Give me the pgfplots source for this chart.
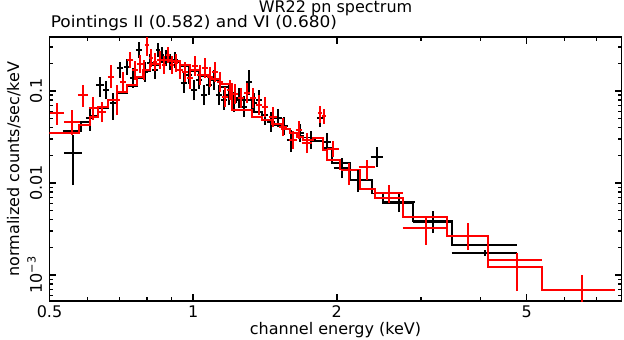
\documentclass[border=0pt]{standalone}
\usepackage{fontspec}
\setmainfont{DejaVu Sans}
\usepackage{pgfplots}
\pgfplotsset{compat=1.18}

\begin{document}
\begin{tikzpicture}[font=\fontsize{16}{19}\selectfont]
\useasboundingbox (-49.5pt,-39pt) rectangle (574.5pt,301pt);
\begin{axis}[
  at={(0pt,0pt)}, anchor=south west,
  scale only axis, width=572pt, height=264pt,
  xmode=log, ymode=log,
  xmin=0.5, xmax=7.9, ymin=5.22e-4, ymax=0.386,
  clip mode=individual, unbounded coords=jump,
  xtick={0.5,1,2,5}, xticklabels={0.5,1,2,5},
  minor xtick={0.6,0.7,0.8,0.9,3,4,6,7},
  ytick={0.001,0.01,0.1}, yticklabels={10\textsuperscript{−3},0.01,0.1},
  minor ytick={0.0006,0.0007,0.0008,0.0009,0.002,0.003,0.004,0.005,0.006,0.007,0.008,0.009,0.02,0.03,0.04,0.05,0.06,0.07,0.08,0.09,0.2,0.3},
  tick align=inside, major tick length=7pt, minor tick length=4pt,
  axis line style={line width=1.6pt},
  every tick/.style={black, line width=1.4pt},
  xticklabel style={anchor=base, inner sep=0pt}, xticklabel shift=16.5pt,
  yticklabel style={rotate=90, anchor=base, inner sep=0pt}, yticklabel shift=7.5pt,
  xlabel={channel energy (keV)},
  xlabel style={at={(axis description cs:0.5,-0.1250)}, anchor=base, inner sep=0pt},
  ylabel={normalized counts/sec/keV},
  ylabel style={at={(axis description cs:-0.0533,0.5)}, anchor=base, inner sep=0pt},
]
% model, pointing II
\addplot[black, line width=1.8pt, const plot] coordinates {
(0.5336,0.0368)(0.582,0.0460)(0.6078,0.0534)(0.6316,0.0653)(0.6628,0.0798)
(0.6924,0.0951)(0.7266,0.1133)(0.7625,0.1384)(0.7848,0.1650)(0.8117,0.1918)
(0.8518,0.2119)(0.8939,0.2066)(0.9380,0.1871)(0.9844,0.1650)(1.0330,0.1456)
(1.0840,0.1317)(1.1376,0.1105)(1.2055,0.0798)(1.3275,0.0592)(1.393,0.0484)
(1.4618,0.0427)(1.534,0.0387)(1.5941,0.0349)(1.649,0.0324)(1.6973,0.0313)
(1.7811,0.0286)(1.8691,0.0240)(1.952,0.0166)(2.1288,0.01078)(2.367,0.00768)
(2.496,0.00611)(2.884,0.00389)(3.481,0.00212)(4.762,0.00212)};
% data, pointing II: each cross = bin (horizontal) + error (vertical)
\addplot[black, line width=2pt] table[row sep=\\] {
x y\\
0.5362 0.0212\\ 0.5848 0.0212\\ nan nan\\ 0.5600 0.00951\\ 0.5600 0.0332\\ nan nan\\
0.5962 0.0509\\ 0.6196 0.0509\\ nan nan\\ 0.6078 0.0368\\ 0.6078 0.0670\\ nan nan\\
0.6256 0.1162\\ 0.6502 0.1162\\ nan nan\\ 0.6378 0.0861\\ 0.6378 0.1419\\ nan nan\\
0.6471 0.1025\\ 0.6661 0.1025\\ nan nan\\ 0.6566 0.0818\\ 0.6566 0.1284\\ nan nan\\
0.6693 0.0740\\ 0.6890 0.0740\\ nan nan\\ 0.6791 0.0484\\ 0.6791 0.0951\\ nan nan\\
0.6924 0.1779\\ 0.7127 0.1779\\ nan nan\\ 0.7024 0.1385\\ 0.7024 0.2067\\ nan nan\\
0.7160 0.1824\\ 0.7371 0.1824\\ nan nan\\ 0.7265 0.1493\\ 0.7265 0.2228\\ nan nan\\
0.7371 0.1385\\ 0.7588 0.1385\\ nan nan\\ 0.7479 0.1078\\ 0.7479 0.1779\\ nan nan\\
0.7588 0.2791\\ 0.7810 0.2791\\ nan nan\\ 0.7698 0.2284\\ 0.7698 0.3408\\ nan nan\\
0.7810 0.1609\\ 0.8039 0.1609\\ nan nan\\ 0.7924 0.1253\\ 0.7924 0.2067\\ nan nan\\
0.8001 0.2016\\ 0.8236 0.2016\\ nan nan\\ 0.8117 0.1609\\ 0.8117 0.2525\\ nan nan\\
0.8196 0.1692\\ 0.8436 0.1692\\ nan nan\\ 0.8315 0.1350\\ 0.8315 0.2119\\ nan nan\\
0.8355 0.2791\\ 0.8518 0.2791\\ nan nan\\ 0.8436 0.2343\\ 0.8436 0.3324\\ nan nan\\
0.8518 0.2463\\ 0.8684 0.2463\\ nan nan\\ 0.8601 0.2016\\ 0.8601 0.3008\\ nan nan\\
0.8684 0.2284\\ 0.8853 0.2284\\ nan nan\\ 0.8768 0.1871\\ 0.8768 0.2791\\ nan nan\\
0.8811 0.2067\\ 0.9069 0.2067\\ nan nan\\ 0.8939 0.1692\\ 0.8939 0.2525\\ nan nan\\
0.9026 0.2173\\ 0.9291 0.2173\\ nan nan\\ 0.9157 0.1779\\ 0.9157 0.2655\\ nan nan\\
0.9246 0.1692\\ 0.9516 0.1692\\ nan nan\\ 0.9380 0.1385\\ 0.9380 0.2067\\ nan nan\\
0.9425 0.1222\\ 0.9702 0.1222\\ nan nan\\ 0.9562 0.0951\\ 0.9562 0.1609\\ nan nan\\
0.9656 0.1493\\ 0.9940 0.1493\\ nan nan\\ 0.9796 0.1191\\ 0.9796 0.1871\\ nan nan\\
0.9892 0.1025\\ 1.0182 0.1025\\ nan nan\\ 1.0035 0.0798\\ 1.0035 0.1317\\ nan nan\\
1.0133 0.1317\\ 1.0430 0.1317\\ nan nan\\ 1.0280 0.1051\\ 1.0280 0.1650\\ nan nan\\
1.0380 0.0905\\ 1.0685 0.0905\\ nan nan\\ 1.0531 0.0704\\ 1.0531 0.1162\\ nan nan\\
1.0633 0.1162\\ 1.0946 0.1162\\ nan nan\\ 1.0788 0.0905\\ 1.0788 0.1493\\ nan nan\\
1.0893 0.1317\\ 1.1213 0.1317\\ nan nan\\ 1.1051 0.1025\\ 1.1051 0.1692\\ nan nan\\
1.1159 0.0905\\ 1.1486 0.0905\\ nan nan\\ 1.1321 0.0704\\ 1.1321 0.1162\\ nan nan\\
1.1431 0.0798\\ 1.1766 0.0798\\ nan nan\\ 1.1597 0.0622\\ 1.1597 0.1025\\ nan nan\\
1.1710 0.0905\\ 1.2054 0.0905\\ nan nan\\ 1.1880 0.0704\\ 1.1880 0.1162\\ nan nan\\
1.1996 0.0759\\ 1.2348 0.0759\\ nan nan\\ 1.2170 0.0592\\ 1.2170 0.0975\\ nan nan\\
1.2288 0.0839\\ 1.2649 0.0839\\ nan nan\\ 1.2466 0.0654\\ 1.2466 0.1078\\ nan nan\\
1.2588 0.0670\\ 1.2958 0.0670\\ nan nan\\ 1.2771 0.0521\\ 1.2771 0.0883\\ nan nan\\
1.2895 0.1253\\ 1.3274 0.1253\\ nan nan\\ 1.3083 0.0905\\ 1.3083 0.1692\\ nan nan\\
1.3210 0.0740\\ 1.3598 0.0740\\ nan nan\\ 1.3402 0.0577\\ 1.3402 0.0951\\ nan nan\\
1.3532 0.0798\\ 1.3929 0.0798\\ nan nan\\ 1.3728 0.0622\\ 1.3728 0.1025\\ nan nan\\
1.3929 0.0548\\ 1.4336 0.0548\\ nan nan\\ 1.4132 0.0427\\ 1.4132 0.0704\\ nan nan\\
1.4269 0.0460\\ 1.4829 0.0460\\ nan nan\\ 1.4546 0.0359\\ 1.4546 0.0592\\ nan nan\\
1.4757 0.0509\\ 1.5339 0.0509\\ nan nan\\ 1.5044 0.0406\\ 1.5044 0.0638\\ nan nan\\
1.5191 0.0416\\ 1.5788 0.0416\\ nan nan\\ 1.5487 0.0332\\ 1.5487 0.0521\\ nan nan\\
1.5711 0.0293\\ 1.6330 0.0293\\ nan nan\\ 1.6018 0.0217\\ 1.6018 0.0377\\ nan nan\\
1.6409 0.0349\\ 1.7055 0.0349\\ nan nan\\ 1.6729 0.0279\\ 1.6729 0.0438\\ nan nan\\
1.7220 0.0293\\ 1.8070 0.0293\\ nan nan\\ 1.7640 0.0234\\ 1.7640 0.0368\\ nan nan\\
1.8158 0.0509\\ 1.8691 0.0509\\ nan nan\\ 1.8422 0.0406\\ 1.8422 0.0654\\ nan nan\\
1.8691 0.0279\\ 1.9425 0.0279\\ nan nan\\ 1.9055 0.0222\\ 1.9055 0.0349\\ nan nan\\
1.9707 0.01451\\ 2.1288 0.01451\\ nan nan\\ 2.0483 0.01133\\ 2.0483 0.0187\\ nan nan\\
2.1288 0.01078\\ 2.2995 0.01078\\ nan nan\\ 2.2124 0.00798\\ 2.2124 0.0138\\ nan nan\\
2.3556 0.01912\\ 2.4960 0.01912\\ nan nan\\ 2.4248 0.01493\\ 2.4248 0.02464\\ nan nan\\
2.4960 0.00621\\ 2.9121 0.00621\\ nan nan\\ 2.6959 0.00484\\ 2.6959 0.00798\\ nan nan\\
2.8843 0.00377\\ 3.4807 0.00377\\ nan nan\\ 3.1759 0.00286\\ 3.1759 0.00496\\ nan nan\\
3.4808 0.00174\\ 4.7620 0.00174\\ nan nan\\ 4.0808 0.00161\\ 4.0808 0.00187\\
};
% model, pointing VI
\addplot[red, line width=1.8pt, const plot] coordinates {
(0.5,0.0352)(0.5764,0.0427)(0.6078,0.0521)(0.6316,0.0670)(0.6628,0.0798)
(0.6924,0.0975)(0.7266,0.1162)(0.7625,0.1419)(0.7848,0.1692)(0.8117,0.1967)
(0.8518,0.2173)(0.8939,0.2119)(0.9380,0.1918)(0.9844,0.1692)(1.0330,0.1493)
(1.0840,0.1350)(1.1376,0.1191)(1.2055,0.0622)(1.3275,0.0521)(1.393,0.0484)
(1.4618,0.0438)(1.534,0.0387)(1.5941,0.0349)(1.649,0.0316)(1.6973,0.0293)
(1.7811,0.0306)(1.8691,0.0228)(1.9056,0.0178)(2.0286,0.0140)(2.2339,0.00854)
(2.4014,0.00681)(2.7485,0.00424)(3.398,0.00265)(4.14,0.00123)(5.372,0.000687)
(7.64,0.000687)};
% data, pointing VI
\addplot[red, line width=2pt] table[row sep=\\] {
x y\\
0.5012 0.0576\\ 0.5362 0.0576\\ nan nan\\ 0.5185 0.0427\\ 0.5185 0.0740\\ nan nan\\
0.5362 0.0460\\ 0.5792 0.0460\\ nan nan\\ 0.5573 0.0332\\ 0.5573 0.0622\\ nan nan\\
0.5736 0.0905\\ 0.6019 0.0905\\ nan nan\\ 0.5876 0.0670\\ 0.5876 0.1162\\ nan nan\\
0.6049 0.0654\\ 0.6287 0.0654\\ nan nan\\ 0.6166 0.0484\\ 0.6166 0.0861\\ nan nan\\
0.6316 0.0592\\ 0.6566 0.0592\\ nan nan\\ 0.6440 0.0460\\ 0.6440 0.0759\\ nan nan\\
0.6628 0.1419\\ 0.6824 0.1419\\ nan nan\\ 0.6726 0.1078\\ 0.6726 0.1918\\ nan nan\\
0.6824 0.0798\\ 0.7024 0.0798\\ nan nan\\ 0.6924 0.0548\\ 0.6924 0.1162\\ nan nan\\
0.7024 0.1253\\ 0.7230 0.1253\\ nan nan\\ 0.7127 0.0975\\ 0.7127 0.1609\\ nan nan\\
0.7265 0.2173\\ 0.7479 0.2173\\ nan nan\\ 0.7371 0.1779\\ 0.7371 0.2655\\ nan nan\\
0.7443 0.1692\\ 0.7661 0.1692\\ nan nan\\ 0.7551 0.1317\\ 0.7551 0.2119\\ nan nan\\
0.7624 0.1967\\ 0.7848 0.1967\\ nan nan\\ 0.7735 0.1570\\ 0.7735 0.2463\\ nan nan\\
0.7810 0.1692\\ 0.7962 0.1692\\ nan nan\\ 0.7886 0.1317\\ 0.7886 0.2173\\ nan nan\\
0.7924 0.3162\\ 0.8078 0.3162\\ nan nan\\ 0.8001 0.2402\\ 0.8001 0.4062\\ nan nan\\
0.8078 0.2284\\ 0.8236 0.2284\\ nan nan\\ 0.8156 0.1824\\ 0.8156 0.2862\\ nan nan\\
0.8236 0.2067\\ 0.8396 0.2067\\ nan nan\\ 0.8315 0.1650\\ 0.8315 0.2589\\ nan nan\\
0.8396 0.2173\\ 0.8642 0.2173\\ nan nan\\ 0.8518 0.1735\\ 0.8518 0.2722\\ nan nan\\
0.8601 0.1918\\ 0.8768 0.1918\\ nan nan\\ 0.8684 0.1531\\ 0.8684 0.2402\\ nan nan\\
0.8768 0.2463\\ 0.8939 0.2463\\ nan nan\\ 0.8853 0.2016\\ 0.8853 0.3008\\ nan nan\\
0.8939 0.1918\\ 0.9113 0.1918\\ nan nan\\ 0.9026 0.1531\\ 0.9026 0.2402\\ nan nan\\
0.9113 0.2016\\ 0.9291 0.2016\\ nan nan\\ 0.9201 0.1609\\ 0.9201 0.2525\\ nan nan\\
0.9246 0.1692\\ 0.9516 0.1692\\ nan nan\\ 0.9380 0.1350\\ 0.9380 0.2119\\ nan nan\\
0.9471 0.1609\\ 0.9749 0.1609\\ nan nan\\ 0.9609 0.1253\\ 0.9609 0.2067\\ nan nan\\
0.9702 0.1385\\ 0.9987 0.1385\\ nan nan\\ 0.9844 0.1051\\ 0.9844 0.1824\\ nan nan\\
0.9940 0.1871\\ 1.0231 0.1871\\ nan nan\\ 1.0084 0.1456\\ 1.0084 0.2402\\ nan nan\\
1.0182 0.1493\\ 1.0480 0.1493\\ nan nan\\ 1.0330 0.1162\\ 1.0330 0.1918\\ nan nan\\
1.0430 0.1779\\ 1.0737 0.1779\\ nan nan\\ 1.0582 0.1385\\ 1.0582 0.2284\\ nan nan\\
1.0685 0.1419\\ 1.0998 0.1419\\ nan nan\\ 1.0840 0.1105\\ 1.0840 0.1824\\ nan nan\\
1.0946 0.1609\\ 1.1267 0.1609\\ nan nan\\ 1.1105 0.1253\\ 1.1105 0.2067\\ nan nan\\
1.1213 0.1253\\ 1.1541 0.1253\\ nan nan\\ 1.1376 0.0975\\ 1.1376 0.1609\\ nan nan\\
1.1486 0.0861\\ 1.1823 0.0861\\ nan nan\\ 1.1653 0.0670\\ 1.1653 0.1105\\ nan nan\\
1.1766 0.1025\\ 1.2112 0.1025\\ nan nan\\ 1.1938 0.0798\\ 1.1938 0.1317\\ nan nan\\
1.2054 0.0928\\ 1.2407 0.0928\\ nan nan\\ 1.2229 0.0722\\ 1.2229 0.1191\\ nan nan\\
1.2407 0.0839\\ 1.2771 0.0839\\ nan nan\\ 1.2588 0.0654\\ 1.2588 0.1078\\ nan nan\\
1.2771 0.0951\\ 1.3146 0.0951\\ nan nan\\ 1.2958 0.0740\\ 1.2958 0.1222\\ nan nan\\
1.3146 0.0839\\ 1.3532 0.0839\\ nan nan\\ 1.3338 0.0654\\ 1.3338 0.1078\\ nan nan\\
1.3532 0.0704\\ 1.3929 0.0704\\ nan nan\\ 1.3728 0.0548\\ 1.3728 0.0905\\ nan nan\\
1.3929 0.0670\\ 1.4336 0.0670\\ nan nan\\ 1.4132 0.0521\\ 1.4132 0.0861\\ nan nan\\
1.4406 0.0521\\ 1.4973 0.0521\\ nan nan\\ 1.4686 0.0406\\ 1.4686 0.0670\\ nan nan\\
1.5118 0.0406\\ 1.5711 0.0406\\ nan nan\\ 1.5413 0.0324\\ 1.5413 0.0509\\ nan nan\\
1.5865 0.0293\\ 1.6489 0.0293\\ nan nan\\ 1.6173 0.0234\\ 1.6173 0.0368\\ nan nan\\
1.6409 0.0377\\ 1.6892 0.0377\\ nan nan\\ 1.6648 0.0300\\ 1.6648 0.0472\\ nan nan\\
1.6892 0.0272\\ 1.7725 0.0272\\ nan nan\\ 1.7304 0.0211\\ 1.7304 0.0349\\ nan nan\\
1.8247 0.0576\\ 1.8601 0.0576\\ nan nan\\ 1.8422 0.0449\\ 1.8422 0.0687\\ nan nan\\
1.8601 0.0534\\ 1.8962 0.0534\\ nan nan\\ 1.8780 0.0438\\ 1.8780 0.0638\\ nan nan\\
1.9055 0.0234\\ 2.0188 0.0234\\ nan nan\\ 1.9613 0.0191\\ 1.9613 0.0286\\ nan nan\\
2.0385 0.0138\\ 2.2017 0.0138\\ nan nan\\ 2.1185 0.00951\\ 2.1185 0.0165\\ nan nan\\
2.2231 0.01493\\ 2.4014 0.01493\\ nan nan\\ 2.3107 0.01078\\ 2.3107 0.0178\\ nan nan\\
2.4014 0.00779\\ 2.7486 0.00779\\ nan nan\\ 2.5690 0.00607\\ 2.5690 0.00951\\ nan nan\\
2.7486 0.00324\\ 3.3980 0.00324\\ nan nan\\ 3.0708 0.00212\\ 3.0708 0.00427\\ nan nan\\
3.3980 0.00265\\ 4.1398 0.00265\\ nan nan\\ 3.7592 0.00187\\ 3.7592 0.00368\\ nan nan\\
4.1398 0.00146\\ 5.3716 0.00146\\ nan nan\\ 4.7615 0.00067\\ 4.7615 0.00174\\ nan nan\\
5.3716 0.000687\\ 7.6400 0.000687\\ nan nan\\ 6.5137 0.0004\\ 6.5137 0.001\\
};
\node[anchor=base] at (axis description cs:0.5,1.0947) {WR22 pn spectrum};
\node[anchor=base west, inner sep=0pt] at (axis description cs:0.002,1.0379) {\addfontfeature{FakeStretch=1.06}Pointings II (0.582) and VI (0.680)};
\end{axis}
\end{tikzpicture}
\end{document}
